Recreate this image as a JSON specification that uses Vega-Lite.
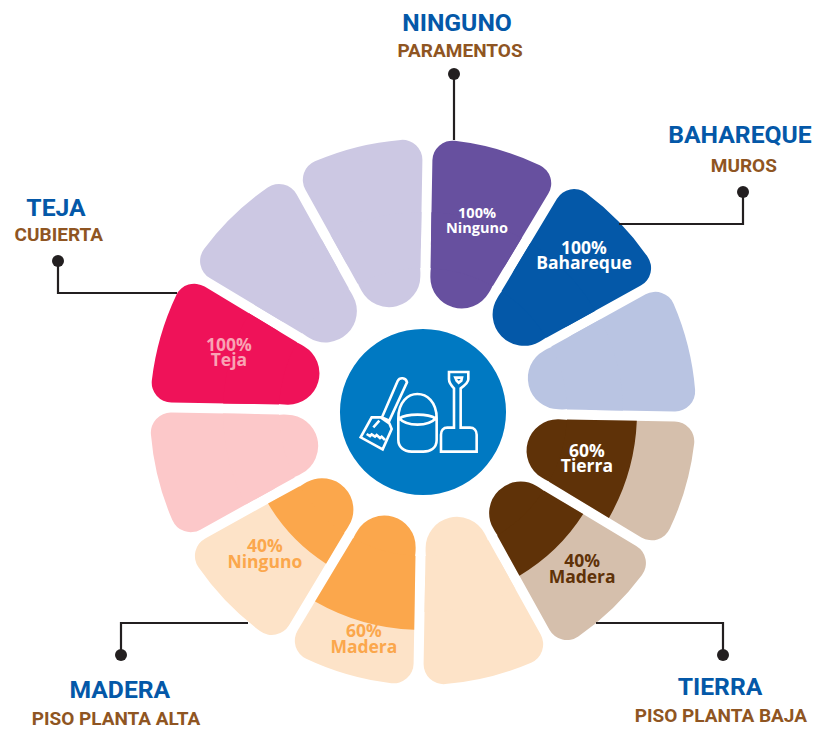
{
  "$schema": "https://vega.github.io/schema/vega-lite/v6.json",
  "width": 816, "height": 729, "padding": 0,
  "autosize": {"type": "none"},
  "background": "white",
  "config": {"view": {"stroke": null}},
  "data": {"values": [
    {"inicio": 1, "fin": 31, "rubro": "Paramentos", "material": "Ninguno", "interior": "ninguno", "exterior": "ninguno", "corte": 0},
    {"inicio": 31, "fin": 61, "rubro": "Muros", "material": "Bahareque", "interior": "bahareque", "exterior": "bahareque", "corte": 0},
    {"inicio": 61, "fin": 91, "rubro": "Muros", "material": "Otro", "interior": "bahareque suave", "exterior": "bahareque suave", "corte": 0},
    {"inicio": 91, "fin": 121, "rubro": "Piso planta baja", "material": "Tierra", "interior": "tierra", "exterior": "tierra suave", "corte": 214},
    {"inicio": 121, "fin": 151, "rubro": "Piso planta baja", "material": "Madera", "interior": "tierra", "exterior": "tierra suave", "corte": 190},
    {"inicio": 151, "fin": 181, "rubro": "Piso planta baja", "material": "Otro", "interior": "madera suave", "exterior": "madera suave", "corte": 0},
    {"inicio": 181, "fin": 211, "rubro": "Piso planta alta", "material": "Madera", "interior": "madera", "exterior": "madera suave", "corte": 218},
    {"inicio": 211, "fin": 241, "rubro": "Piso planta alta", "material": "Ninguno", "interior": "madera", "exterior": "madera suave", "corte": 180},
    {"inicio": 241, "fin": 271, "rubro": "Cubierta", "material": "Otro", "interior": "teja suave", "exterior": "teja suave", "corte": 0},
    {"inicio": 271, "fin": 301, "rubro": "Cubierta", "material": "Teja", "interior": "teja", "exterior": "teja", "corte": 0},
    {"inicio": 301, "fin": 331, "rubro": "Paramentos", "material": "Otro", "interior": "ninguno suave", "exterior": "ninguno suave", "corte": 0},
    {"inicio": 331, "fin": 361, "rubro": "Paramentos", "material": "Otro", "interior": "ninguno suave", "exterior": "ninguno suave", "corte": 0}
  ]},
  "layer": [
    {
      "encoding": {
        "x": {"datum": 0, "type": "quantitative", "axis": null, "scale": {"domain": [-423, 393], "nice": false, "zero": false}},
        "y": {"datum": 0, "type": "quantitative", "axis": null, "scale": {"domain": [-317, 412], "nice": false, "zero": false}}
      },
      "layer": [
        {
          "mark": {"type": "arc", "radius2": 150, "radius": 273, "cornerRadius": 20, "padAngle": 0.0321},
          "encoding": {
            "theta": {"field": "inicio", "type": "quantitative", "stack": null, "scale": {"domain": [0, 360], "range": [0, 6.283185]}},
            "theta2": {"field": "fin"},
            "color": {"field": "exterior", "type": "nominal", "legend": null, "scale": {
              "domain": ["ninguno", "ninguno suave", "bahareque", "bahareque suave", "tierra", "tierra suave", "madera", "madera suave", "teja", "teja suave", "blanco", "rotulo teja", "rotulo"],
              "range": ["#67509F", "#CCC8E3", "#0458A8", "#B9C4E2", "#5F3208", "#D5BFAC", "#FBA74C", "#FDE3C8", "#EF1259", "#FCC8C9", "#FFFFFF", "#F9A3B4", "#8F5522"]
            }}
          }
        },
        {
          "mark": {"type": "arc", "radius2": 109, "radius": 176, "cornerRadius": 35, "padAngle": 0.0483},
          "encoding": {
            "theta": {"field": "inicio", "type": "quantitative", "stack": null},
            "theta2": {"field": "fin"},
            "color": {"field": "interior", "type": "nominal", "legend": null}
          }
        },
        {
          "transform": [{"filter": "datum.corte == 0"}],
          "mark": {"type": "arc", "radius2": 144, "radius": 200, "padAngle": 0.04058},
          "encoding": {"theta": {"field": "inicio", "type": "quantitative", "stack": null}, "theta2": {"field": "fin"}, "color": {"field": "interior", "type": "nominal", "legend": null}}
        },
        {
          "transform": [{"filter": "datum.corte == 214"}],
          "mark": {"type": "arc", "radius2": 144, "radius": 214, "padAngle": 0.03877},
          "encoding": {"theta": {"field": "inicio", "type": "quantitative", "stack": null}, "theta2": {"field": "fin"}, "color": {"field": "interior", "type": "nominal", "legend": null}}
        },
        {
          "transform": [{"filter": "datum.corte == 190"}],
          "mark": {"type": "arc", "radius2": 144, "radius": 190, "padAngle": 0.04195},
          "encoding": {"theta": {"field": "inicio", "type": "quantitative", "stack": null}, "theta2": {"field": "fin"}, "color": {"field": "interior", "type": "nominal", "legend": null}}
        },
        {
          "transform": [{"filter": "datum.corte == 218"}],
          "mark": {"type": "arc", "radius2": 144, "radius": 218, "padAngle": 0.03827},
          "encoding": {"theta": {"field": "inicio", "type": "quantitative", "stack": null}, "theta2": {"field": "fin"}, "color": {"field": "interior", "type": "nominal", "legend": null}}
        },
        {
          "transform": [{"filter": "datum.corte == 180"}],
          "mark": {"type": "arc", "radius2": 144, "radius": 180, "padAngle": 0.04338},
          "encoding": {"theta": {"field": "inicio", "type": "quantitative", "stack": null}, "theta2": {"field": "fin"}, "color": {"field": "interior", "type": "nominal", "legend": null}}
        },
        {
          "data": {"values": [{"nombre": "centro"}]},
          "mark": {"type": "arc", "radius2": 0, "radius": 83, "color": "#0079C2"},
          "encoding": {"theta": {"datum": 0, "type": "quantitative", "stack": null}, "theta2": {"datum": 360}}
        },
        {
          "data": {"values": [
            {"t": "100%\nBahareque", "ang": 45.8, "r": 224.5, "tono": "blanco"},
            {"t": "60%\nTierra", "ang": 105.7, "r": 170.3, "tono": "blanco"},
            {"t": "40%\nMadera", "ang": 134.6, "r": 223.5, "tono": "tierra"},
            {"t": "60%\nMadera", "ang": 194.6, "r": 234.5, "tono": "madera"},
            {"t": "40%\nNinguno", "ang": 228.1, "r": 212.4, "tono": "madera"},
            {"t": "100%\nTeja", "ang": 287.05, "r": 203, "tono": "rotulo teja"}
          ]},
          "mark": {"type": "text", "font": "Open Sans", "fontWeight": "bold", "fontSize": 17.5, "lineBreak": "\n", "lineHeight": 15.5, "align": "center", "baseline": "middle", "dy": -6.5},
          "encoding": {
            "text": {"field": "t"},
            "theta": {"field": "ang", "type": "quantitative", "stack": null},
            "radius": {"field": "r", "type": "quantitative", "scale": {"domain": [0, 500], "range": [0, 500]}},
            "color": {"field": "tono", "type": "nominal", "legend": null}
          }
        },
        {
          "data": {"values": [{"t": "100%\nNinguno", "ang": 15.8, "r": 198.5, "tono": "blanco"}]},
          "mark": {"type": "text", "font": "Open Sans", "fontWeight": "bold", "fontSize": 14.5, "lineBreak": "\n", "lineHeight": 15.5, "align": "center", "baseline": "middle", "dy": -7},
          "encoding": {
            "text": {"field": "t"},
            "theta": {"field": "ang", "type": "quantitative", "stack": null},
            "radius": {"field": "r", "type": "quantitative"},
            "color": {"field": "tono", "type": "nominal", "legend": null}
          }
        },
        {
          "data": {"values": [
            {"t": "NINGUNO", "ang": 5.0, "r": 390.5},
            {"t": "BAHAREQUE", "ang": 48.85, "r": 421},
            {"t": "TEJA", "ang": 299.07, "r": 419.9},
            {"t": "MADERA", "ang": 227.5, "r": 411.2},
            {"t": "TIERRA", "ang": 132.8, "r": 404.8}
          ]},
          "mark": {"type": "text", "font": "Roboto", "fontWeight": "bold", "fontSize": 24.7, "align": "center", "baseline": "middle", "dy": 1, "color": "#0458A8"},
          "encoding": {
            "text": {"field": "t"},
            "theta": {"field": "ang", "type": "quantitative", "stack": null},
            "radius": {"field": "r", "type": "quantitative"}
          }
        },
        {
          "data": {"values": [
            {"t": "PARAMENTOS", "ang": 5.85, "r": 362.9},
            {"t": "MUROS", "ang": 52.5, "r": 404.4},
            {"t": "CUBIERTA", "ang": 295.9, "r": 404.8},
            {"t": "PISO PLANTA ALTA", "ang": 225, "r": 434.2},
            {"t": "PISO PLANTA BAJA", "ang": 135.6, "r": 425.7}
          ]},
          "mark": {"type": "text", "font": "Roboto", "fontWeight": "bold", "fontSize": 19, "align": "center", "baseline": "middle", "color": "#8F5522"},
          "encoding": {
            "text": {"field": "t"},
            "theta": {"field": "ang", "type": "quantitative", "stack": null},
            "radius": {"field": "r", "type": "quantitative"}
          }
        }
      ]
    },
    {
      "data": {"values": [{"nombre": "herramientas", "a": -83, "b": 82}]},
      "mark": {"type": "point", "filled": false, "opacity": 1, "stroke": "#FFFFFF", "strokeWidth": 2.6, "size": 0.4444,
        "shape": "M322 293 C310 293 303 302 303 314 L303 365 L410 365 L410 314 C410 302 402 293 390 293 L362 293 L362 175 C372 168 385 158 385 148 L385 126 L327 126 L327 148 C327 158 335 168 342 175 L342 293 Z M346 143 L366 143 L364 152 L356 158 L350 152 Z M175 265 C175 215 205 192 232 192 C260 192 290 215 290 265 L290 330 C290 355 270 365 250 365 L215 365 C190 365 175 350 175 330 Z M178 265 C200 250 265 250 287 265 M178 265 C200 290 265 290 287 265 M173 153 C179 141 198 142 201 157 L148 272 L126 262 Z M95 262 L122 262 L148 280 L155 297 L128 358 L62 322 Z M80 312 L90 318 L95 313 L105 320 L110 315 L120 324 L125 320 L135 330 M100 292 L118 272"},
      "encoding": {
        "x": {"field": "a", "type": "quantitative", "axis": null},
        "y": {"field": "b", "type": "quantitative", "axis": null}
      }
    },
    {
      "data": {"values": [
        {"guia": "Ninguno", "orden": 0, "a": 31, "b": 338},
        {"guia": "Ninguno", "orden": 1, "a": 31, "b": 272},
        {"guia": "Bahareque", "orden": 0, "a": 320, "b": 220},
        {"guia": "Bahareque", "orden": 1, "a": 320, "b": 188},
        {"guia": "Bahareque", "orden": 2, "a": 196, "b": 188},
        {"guia": "Teja", "orden": 0, "a": -365, "b": 151},
        {"guia": "Teja", "orden": 1, "a": -365, "b": 119},
        {"guia": "Teja", "orden": 2, "a": -246, "b": 119},
        {"guia": "Madera", "orden": 0, "a": -302, "b": -243},
        {"guia": "Madera", "orden": 1, "a": -302, "b": -211},
        {"guia": "Madera", "orden": 2, "a": -175, "b": -211},
        {"guia": "Tierra", "orden": 0, "a": 300, "b": -243},
        {"guia": "Tierra", "orden": 1, "a": 300, "b": -211},
        {"guia": "Tierra", "orden": 2, "a": 173, "b": -211}
      ]},
      "layer": [
        {
          "mark": {"type": "line", "color": "#231F20", "strokeWidth": 2.2},
          "encoding": {
            "x": {"field": "a", "type": "quantitative", "axis": null},
            "y": {"field": "b", "type": "quantitative", "axis": null},
            "detail": {"field": "guia"},
            "order": {"field": "orden"}
          }
        },
        {
          "transform": [{"filter": "datum.orden == 0"}],
          "mark": {"type": "point", "filled": true, "shape": "circle", "opacity": 1, "color": "#231F20", "size": 144},
          "encoding": {
            "x": {"field": "a", "type": "quantitative", "axis": null},
            "y": {"field": "b", "type": "quantitative", "axis": null}
          }
        }
      ]
    }
  ]
}
